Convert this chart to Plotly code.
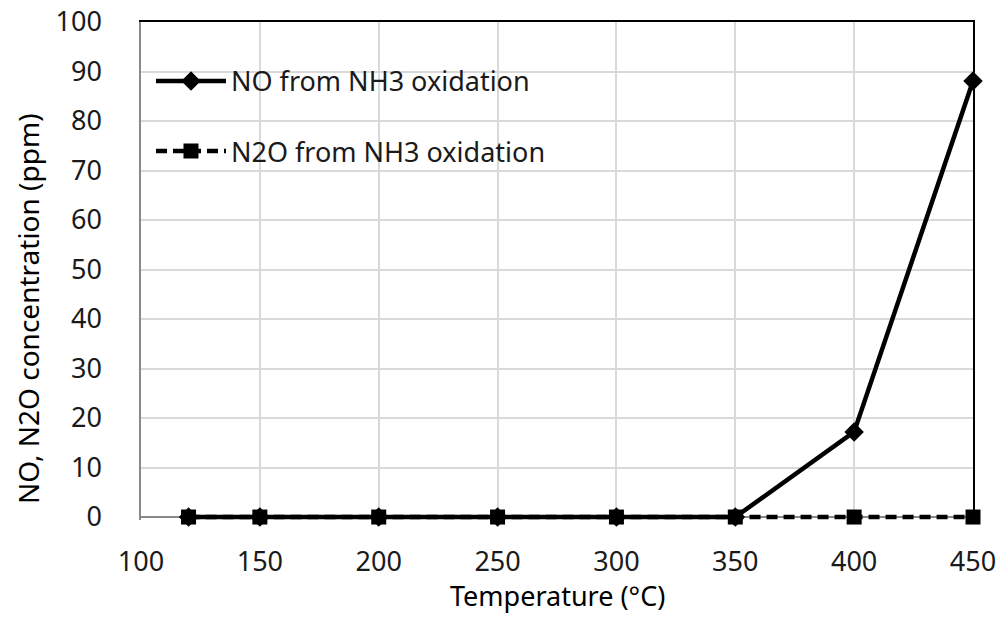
import plotly.graph_objects as go

# Reaction temperatures (°C)
temperature = [120, 150, 200, 250, 300, 350, 400, 450]
# Concentrations formed by NH3 oxidation (ppm)
no_ppm = [0, 0, 0, 0, 0, 0, 17.2, 88.1]
n2o_ppm = [0, 0, 0, 0, 0, 0, 0, 0]

x_ticks = [100, 150, 200, 250, 300, 350, 400, 450]
y_ticks = [0, 10, 20, 30, 40, 50, 60, 70, 80, 90, 100]

FONT = "Noto Sans"
GRID = "#d9d9d9"
AXIS = "#898989"
TXT = "#1a1a1a"

fig = go.Figure()

fig.add_trace(go.Scatter(
    x=temperature, y=no_ppm, name="NO from NH3 oxidation",
    mode="lines+markers", legendgroup="no",
    line=dict(color="black", width=4.5),
    marker=dict(symbol="diamond", size=15, color="black"),
    cliponaxis=False,
))
fig.add_trace(go.Scatter(
    x=temperature, y=n2o_ppm, name="N2O from NH3 oxidation",
    mode="lines+markers", legendgroup="n2o",
    line=dict(color="black", width=4.5, dash="11px,6px"),
    marker=dict(symbol="square", size=15, color="black"),
    cliponaxis=False,
))

# A little room below zero keeps the zero-level lines from being clipped;
# the zero line itself acts as the bottom axis.
Y_MIN = -0.6

fig.update_layout(
    width=1002, height=617,
    margin=dict(l=141, r=29, t=22, b=97, autoexpand=False),
    paper_bgcolor="white", plot_bgcolor="white",
    font=dict(family=FONT, size=27, color=TXT),
    showlegend=True,
    legend=dict(
        x=0.012, y=0.93, xanchor="left", yanchor="top",
        bgcolor="rgba(0,0,0,0)", tracegroupgap=32, itemwidth=70,
        font=dict(family=FONT, size=27, color=TXT),
    ),
    xaxis=dict(
        range=[100, 450], tickvals=x_ticks, automargin=False,
        showgrid=True, gridcolor=GRID, gridwidth=1.5,
        showline=False, zeroline=False, ticks="",
        ticklabelstandoff=23,
        tickfont=dict(family=FONT, size=27, color=TXT),
    ),
    xaxis2=dict(
        overlaying="x", side="top", range=[100, 450], automargin=False,
        showgrid=False, showline=True, linecolor="black", linewidth=1.5,
        showticklabels=False, ticks="", zeroline=False,
    ),
    yaxis=dict(
        range=[Y_MIN, 100], tickvals=y_ticks, automargin=False,
        showgrid=True, gridcolor=GRID, gridwidth=1.5,
        showline=True, linecolor=AXIS, linewidth=1.5,
        zeroline=True, zerolinecolor=AXIS, zerolinewidth=1.5, ticks="",
        ticklabelstandoff=32,
        tickfont=dict(family=FONT, size=27, color=TXT),
    ),
    yaxis2=dict(
        overlaying="y", side="right", range=[Y_MIN, 100], automargin=False,
        showgrid=False, showline=True, linecolor="black", linewidth=1.5,
        showticklabels=False, ticks="", zeroline=False,
    ),
    annotations=[
        dict(text="Temperature (°C)", xref="paper", yref="paper",
             x=0.5, y=-0.152, xanchor="center", yanchor="middle",
             showarrow=False, font=dict(family=FONT, size=27, color="black")),
        dict(text="NO, N2O concentration (ppm)", xref="paper", yref="paper",
             x=-0.135, y=0.425, xanchor="center", yanchor="middle", textangle=-90,
             showarrow=False, font=dict(family=FONT, size=28, color="black")),
    ],
)

# Invisible trace anchors the top and right border axes
fig.add_trace(go.Scatter(x=[None], y=[None], xaxis="x2", yaxis="y2",
                         showlegend=False, hoverinfo="skip"))

fig.write_html("out.html")
